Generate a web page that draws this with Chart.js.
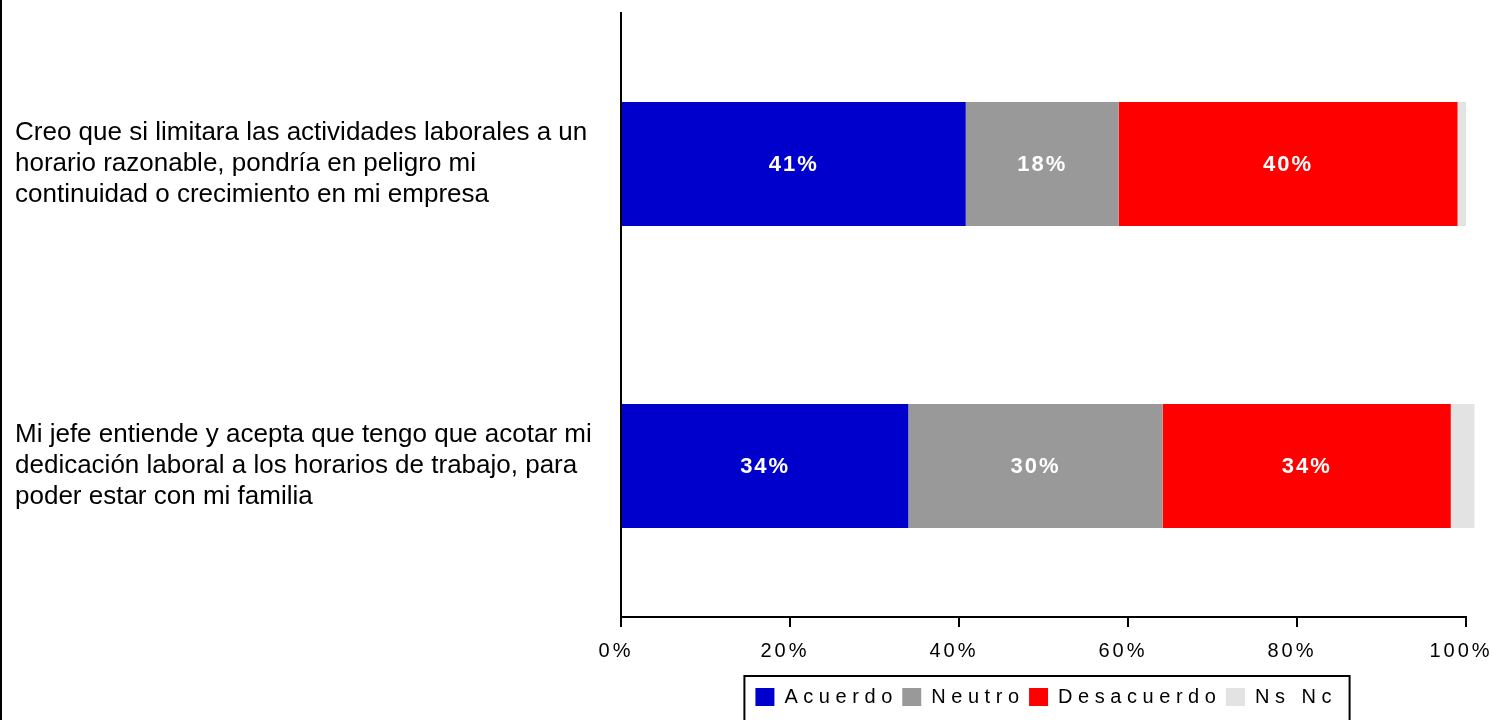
<!DOCTYPE html>
<html>
<head>
<meta charset="utf-8">
<script src="https://cdn.jsdelivr.net/npm/chart.js@4/dist/chart.umd.min.js"></script>
<style>
  html, body { margin: 0; padding: 0; background: #fff; overflow: hidden; width: 1493px; height: 720px; }
  #edge { position: absolute; left: 0; top: 0; width: 2px; height: 720px; background: #000; }
  #chart { position: absolute; left: 0; top: 0; }
</style>
</head>
<body>
<div id="edge"></div>
<canvas id="chart" width="1493" height="740"></canvas>
<script>
const categories = [
  ['Creo que si limitara las actividades laborales a un', 'horario razonable, pondría en peligro mi', 'continuidad o crecimiento en mi empresa'],
  ['Mi jefe entiende y acepta que tengo que acotar mi', 'dedicación laboral a los horarios de trabajo, para', 'poder estar con mi familia']
];
const seriesNames = ['Acuerdo', 'Neutro', 'Desacuerdo', 'Ns Nc'];
const acuerdo = [40.8, 34.0];
const neutro = [18.1, 30.1];
const desacuerdo = [40.1, 34.1];
const nsNc = [1.0, 2.8];
const xTicks = [0, 20, 40, 60, 80, 100];

const colors = ['#0000CC', '#999999', '#FF0000', '#E3E3E3'];
const sans = '"Liberation Sans", Arial, sans-serif';

// legend text in the source has its letters spread out
const spaced = (s) => s.split('').join(' ');

const barLabels = {
  id: 'barLabels',
  afterDatasetsDraw(chart) {
    const ctx = chart.ctx;
    ctx.save();
    ctx.font = 'bold 22px ' + sans;
    ctx.letterSpacing = '2px';
    ctx.fillStyle = '#fff';
    ctx.textAlign = 'center';
    ctx.textBaseline = 'middle';
    chart.data.datasets.forEach((ds, i) => {
      if (i === 3) return;
      chart.getDatasetMeta(i).data.forEach((bar, j) => {
        ctx.fillText(Math.round(ds.data[j]) + '%', (bar.x + bar.base) / 2, bar.y + 1);
      });
    });
    ctx.restore();
    // x tick labels (z: 1) are drawn after this hook, spaced out
    ctx.letterSpacing = '3px';
  },
  afterDraw(chart) {
    chart.ctx.letterSpacing = '0px';
  }
};

const legendFrame = {
  id: 'legendFrame',
  afterDraw(chart) {
    const hb = chart.legend.legendHitBoxes;
    if (!hb || !hb.length) return;
    const last = hb[hb.length - 1];
    const left = hb[0].left - 11;
    const right = last.left + last.width + 18;
    const top = chart.legend.top - 1;
    const ctx = chart.ctx;
    ctx.save();
    ctx.strokeStyle = '#000';
    ctx.lineWidth = 2;
    ctx.strokeRect(left, top, right - left, 70);
    ctx.restore();
  }
};

new Chart(document.getElementById('chart'), {
  type: 'bar',
  data: {
    labels: categories,
    datasets: [
      { label: seriesNames[0], data: acuerdo, backgroundColor: colors[0] },
      { label: seriesNames[1], data: neutro, backgroundColor: colors[1] },
      { label: seriesNames[2], data: desacuerdo, backgroundColor: colors[2] },
      { label: seriesNames[3], data: nsNc, backgroundColor: colors[3], clip: false }
    ]
  },
  options: {
    indexAxis: 'y',
    responsive: false,
    animation: false,
    borderWidth: 0,
    categoryPercentage: 1,
    barPercentage: 0.41,
    layout: { padding: { left: 15, right: 27, top: 13, bottom: 23 } },
    scales: {
      x: {
        stacked: true,
        min: 0,
        max: 100,
        afterBuildTicks: (scale) => { scale.ticks = xTicks.map((v) => ({ value: v })); },
        afterFit: (scale) => {
          scale.height = 60;
          scale.paddingLeft = 0;
          scale.paddingRight = 0;
        },
        grid: { drawOnChartArea: false, drawTicks: true, tickLength: 10, color: '#000', lineWidth: 2 },
        border: { color: '#000', width: 2 },
        ticks: {
          z: 1,
          padding: 12,
          labelOffset: -5,
          color: '#000',
          font: { family: sans, size: 20 },
          callback: (v) => v + '%'
        }
      },
      y: {
        stacked: true,
        afterFit: (scale) => {
          scale.width = 606;
          scale.paddingTop = 0;
          scale.paddingBottom = 0;
        },
        grid: { drawOnChartArea: false, drawTicks: false },
        border: { color: '#000', width: 2 },
        ticks: {
          crossAlign: 'far',
          color: '#000',
          font: { family: sans, size: 26, lineHeight: 1.2 }
        }
      }
    },
    plugins: {
      tooltip: { enabled: false },
      legend: {
        position: 'bottom',
        fullSize: false,
        labels: {
          color: '#000',
          boxWidth: 19,
          boxHeight: 18,
          padding: 10,
          font: { family: sans, size: 20 },
          generateLabels(chart) {
            const items = Chart.defaults.plugins.legend.labels.generateLabels(chart);
            items.forEach((it) => { it.text = spaced(it.text); it.lineWidth = 0; });
            return items;
          }
        }
      }
    }
  },
  plugins: [barLabels, legendFrame]
});
</script>
</body>
</html>
